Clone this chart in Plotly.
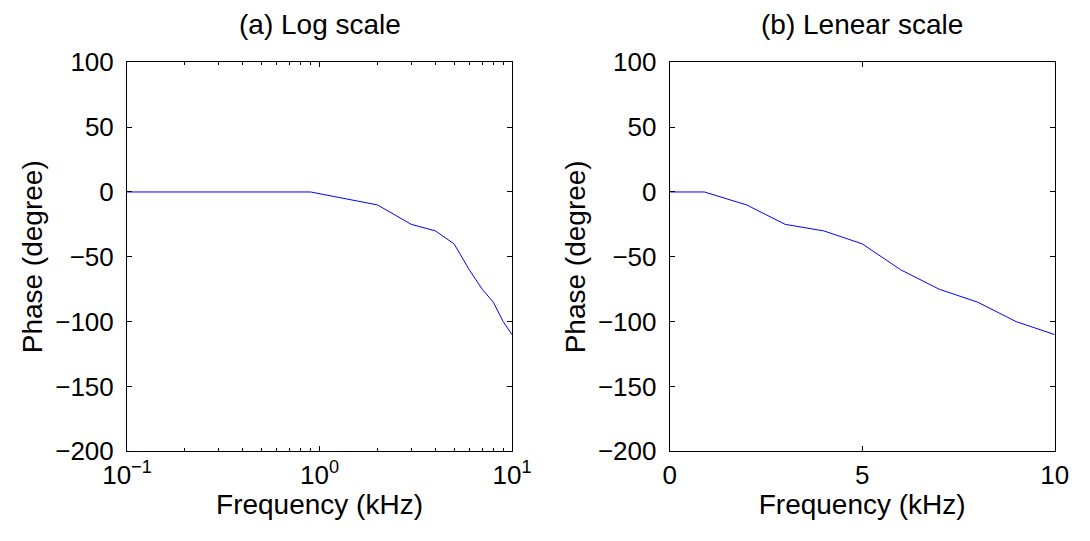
import plotly.graph_objects as go

# ---- data ----
freq_lin = [0, 0.9, 2, 3, 4, 5, 6, 7, 8, 9, 10]
freq_log = [0.1, 0.9, 2, 3, 4, 5, 6, 7, 8, 9, 10]
phase = [0, 0, -10, -25, -30, -40, -60, -75, -85, -100, -110]
titles = ["(a) Log scale", "(b) Lenear scale"]
x_title = "Frequency (kHz)"
y_title = "Phase (degree)"
log_tickvals = [0.1, 1, 10]
log_ticktext = ["10<sup>−1</sup>", "10<sup>0</sup>", "10<sup>1</sup>"]
log_minor = [0.2, 0.3, 0.4, 0.5, 0.6, 0.7, 0.8, 0.9, 2, 3, 4, 5, 6, 7, 8, 9]
lin_tickvals = [0, 5, 10]
y_tickvals = [100, 50, 0, -50, -100, -150, -200]

FONT = "Liberation Sans, Arial, Helvetica, sans-serif"
W, H = 1090, 541

fig = go.Figure()
fig.add_trace(go.Scatter(x=freq_log, y=phase, xaxis="x", yaxis="y", mode="lines",
                         line=dict(color="#0000ff", width=1), showlegend=False))
fig.add_trace(go.Scatter(x=freq_lin, y=phase, xaxis="x2", yaxis="y2", mode="lines",
                         line=dict(color="#0000ff", width=1), showlegend=False))

common = dict(showline=True, linecolor="black", linewidth=1, mirror="ticks",
              ticks="inside", ticklen=5, tickcolor="black", tickwidth=1,
              showgrid=False, zeroline=False, automargin=False,
              tickfont=dict(family=FONT, size=26, color="black"))

xdom1 = [119 / W, 504 / W]
xdom2 = [661.7 / W, 1046.7 / W]
ydom = [(H - 443.3) / H, (H - 54.3) / H]

fig.update_layout(
    width=W, height=H,
    margin=dict(l=0, r=0, t=0, b=0),
    paper_bgcolor="white", plot_bgcolor="white",
    font=dict(family=FONT, color="black"),
    xaxis=dict(domain=xdom1, anchor="y", type="log", range=[-1, 1],
               tickvals=log_tickvals, ticktext=log_ticktext,
               minor=dict(ticks="inside", ticklen=3, tickcolor="black",
                          tickvals=log_minor),
               title=dict(text=x_title, font=dict(size=28), standoff=2),
               **common),
    yaxis=dict(domain=ydom, anchor="x", range=[-200, 100], tickvals=y_tickvals,
               ticklabelstandoff=7,
               title=dict(text=y_title, font=dict(size=28), standoff=4),
               **common),
    xaxis2=dict(domain=xdom2, anchor="y2", range=[0, 10], tickvals=lin_tickvals,
                title=dict(text=x_title, font=dict(size=28), standoff=2),
                **common),
    yaxis2=dict(domain=ydom, anchor="x2", range=[-200, 100], tickvals=y_tickvals,
                ticklabelstandoff=7,
                title=dict(text=y_title, font=dict(size=28), standoff=4),
                **common),
)

for dom, t in zip([xdom1, xdom2], titles):
    fig.add_annotation(text=t, x=(dom[0] + dom[1]) / 2, y=1 - 16 / H,
                       xref="paper", yref="paper", xanchor="center", yanchor="middle",
                       showarrow=False, font=dict(family=FONT, size=28, color="black"))

fig.write_html("out.html")
